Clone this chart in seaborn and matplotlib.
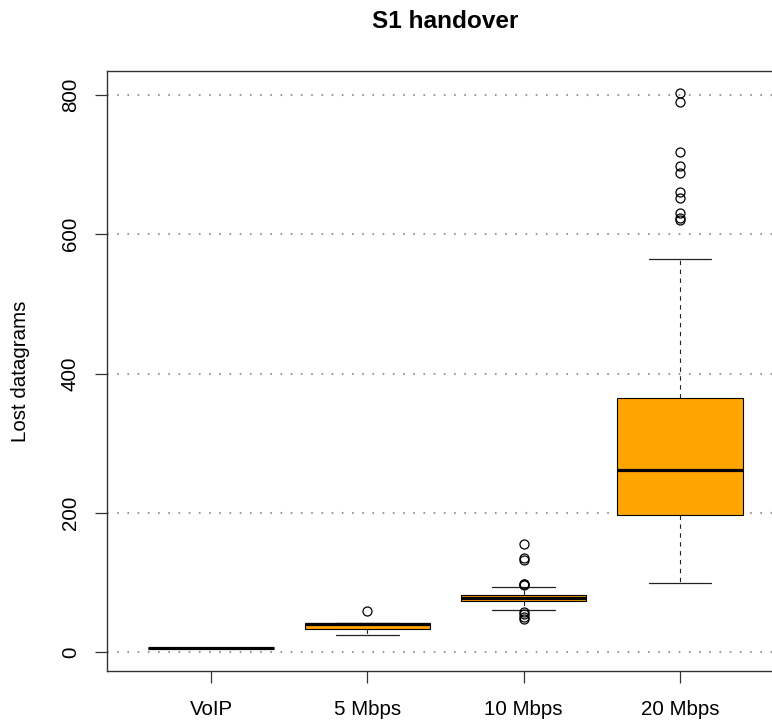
import matplotlib
matplotlib.use("Agg")
import matplotlib.pyplot as plt
import seaborn as sns
import pandas as pd

categories = ["VoIP", "5 Mbps", "10 Mbps", "20 Mbps"]

voip = [6] * 20
mbps5 = [25, 27, 29, 30, 32, 33, 34, 36, 37, 39, 40, 41, 41, 41, 41, 41, 41,
         41, 41, 41, 59]
mbps10 = [48, 50, 54, 57, 61, 64, 66, 68, 69, 70, 71, 72,
          73,
          74, 74, 75, 75, 76, 76, 76, 77, 77, 77, 78,
          78,
          78, 79, 79, 79, 80, 80, 80, 81, 81, 81, 81,
          82,
          82, 84, 86, 88, 90, 93, 96, 97, 98, 132, 135, 155]
mbps20 = [99,
          120, 135, 148, 155, 162, 170, 176, 182, 188, 193,
          197,
          205, 212, 220, 228, 234, 240, 245, 250, 255, 258,
          261,
          270, 280, 290, 300, 310, 320, 330, 340, 350, 358,
          365,
          564,
          620, 623, 630, 652, 660, 688, 698, 718, 790, 803]

yticks = [0, 200, 400, 600, 800]

rows = []
for cat, vals in zip(categories, [voip, mbps5, mbps10, mbps20]):
    for v in vals:
        rows.append({"group": cat, "lost": v})
df = pd.DataFrame(rows)

sns.set_style("white")
plt.rcParams["font.family"] = ["Liberation Sans", "DejaVu Sans"]
plt.rcParams["text.color"] = "black"
plt.rcParams["axes.labelcolor"] = "black"
plt.rcParams["xtick.color"] = "black"
plt.rcParams["ytick.color"] = "black"

fig = plt.figure(figsize=(7.72, 7.21), dpi=100)
ax = fig.add_axes([107 / 772, 50 / 721, (784 - 107) / 772, 600 / 721])

sns.boxplot(
    data=df, x="group", y="lost", order=categories, ax=ax,
    color="#FFA500", saturation=1, linecolor="black", linewidth=0.8,
    width=0.8, whis=1.5, fliersize=6.5,
    medianprops=dict(linewidth=2.3, color="black"),
    whiskerprops=dict(linestyle=(0, (4, 4)), linewidth=0.8, color="#222222"),
    capprops=dict(linewidth=0.9, color="#222222"),
    flierprops=dict(marker="o", markerfacecolor="none",
                    markeredgecolor="black", markeredgewidth=0.9),
)

ax.set_xlim(-0.665, 3.665)
ax.set_ylim(-27.3, 834.5)
ax.set_yticks(yticks)
ax.set_yticklabels([str(t) for t in yticks])
ax.set_axisbelow(True)
ax.yaxis.grid(True, color="#999999", linestyle=(0, (0.8, 4.1)), linewidth=1.5)
ax.xaxis.grid(False)

for s in ax.spines.values():
    s.set_visible(True)
    s.set_color("#333333")
    s.set_linewidth(1.0)

ax.tick_params(axis="both", direction="out", length=8.6, width=0.9,
               color="#333333", labelcolor="black", labelsize=14.8,
               left=True, bottom=True)
ax.tick_params(axis="x", pad=12)
ax.tick_params(axis="y", pad=11)
for lab in ax.get_yticklabels():
    lab.set_rotation(90)
    lab.set_va("center")

ax.set_xlabel("")
ax.set_ylabel("Lost datagrams", fontsize=14.8, labelpad=22, color="black")
ax.set_title("S1 handover", fontsize=17.6, fontweight="bold", pad=31,
             color="black")

fig.savefig("out.png", dpi=100)
